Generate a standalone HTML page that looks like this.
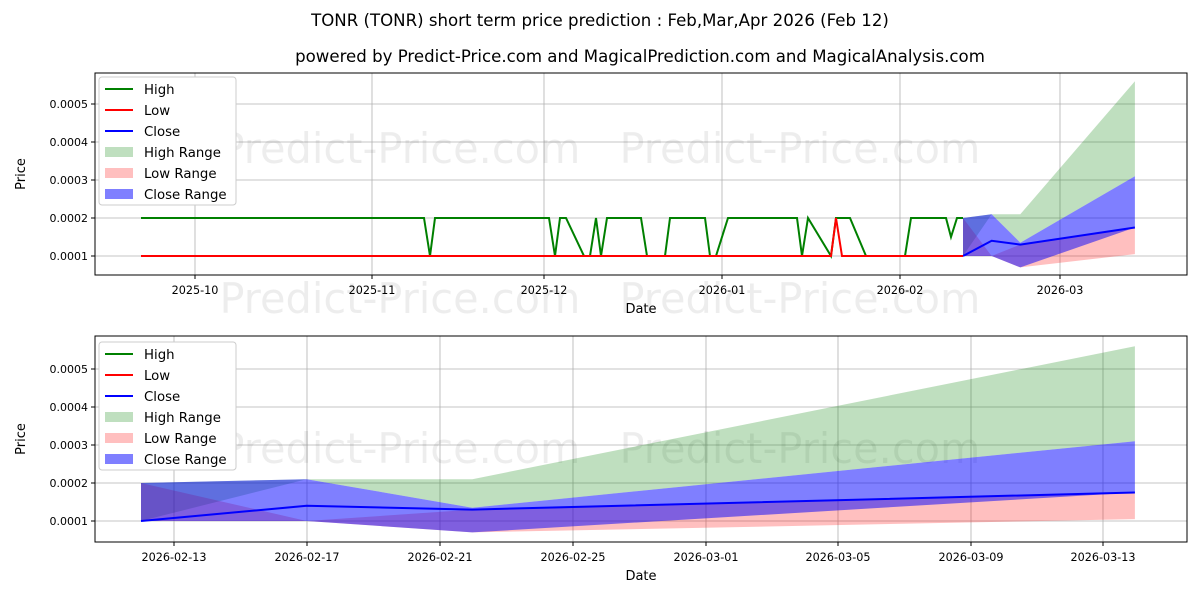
<!DOCTYPE html>
<html><head><meta charset="utf-8"><style>
body{margin:0;background:#fff;}
svg{font-family:"DejaVu Sans","Liberation Sans",sans-serif;}
</style></head><body>
<svg id="s" width="1200" height="600" xmlns="http://www.w3.org/2000/svg"></svg>
<script>
const s=document.getElementById('s');let h='';
h+='<text x="600" y="26" font-size="16.6" text-anchor="middle">TONR (TONR) short term price prediction : Feb,Mar,Apr 2026 (Feb 12)</text>';
h+='<text x="640" y="62" font-size="16.6" text-anchor="middle">powered by Predict-Price.com and MagicalPrediction.com and MagicalAnalysis.com</text>';
function axes(x0,y0,x1,y1,yb,xt,yl){
  let g='';
  for(const[x,l]of xt){g+=`<line x1="${x}" y1="${y0}" x2="${x}" y2="${y1}" stroke="#b0b0b0" stroke-width="0.8"/><line x1="${x}" y1="${y1}" x2="${x}" y2="${y1+4}" stroke="#000"/><text x="${x}" y="${y1+19}" font-size="11.2" text-anchor="middle">${l}</text>`;}
  for(let i=1;i<=5;i++){const y=yb-(i-1)*38;g+=`<line x1="${x0}" y1="${y}" x2="${x1}" y2="${y}" stroke="#b0b0b0" stroke-width="0.8"/><line x1="${x0-4}" y1="${y}" x2="${x0}" y2="${y}" stroke="#000"/><text x="${x0-7}" y="${y+4}" font-size="11" text-anchor="end">0.000${i}</text>`;}
  g+=`<text x="${(x0+x1)/2}" y="${y1+38}" font-size="13" text-anchor="middle">Date</text>`;
  g+=`<text transform="translate(${x0-70},${(y0+y1)/2}) rotate(-90)" font-size="13" text-anchor="middle">Price</text>`;
  return g;
}
function wm(y){return `<text x="400" y="${y}" font-size="41.5" fill="#000" fill-opacity="0.07" text-anchor="middle">Predict-Price.com</text><text x="800" y="${y}" font-size="41.5" fill="#000" fill-opacity="0.07" text-anchor="middle">Predict-Price.com</text>`;}
function pl(pts,c,w){return `<polyline points="${pts.map(p=>p.join(',')).join(' ')}" fill="none" stroke="${c}" stroke-width="${w||2}"/>`;}
function poly(pts,c,o){return `<polygon points="${pts.map(p=>p.join(',')).join(' ')}" fill="${c}" fill-opacity="${o}"/>`;}
function legend(x,y){let g=`<rect x="${x}" y="${y}" width="137" height="128" fill="#fff" stroke="#ccc" rx="3"/>`;
 const it=[['l','green','High'],['l','red','Low'],['l','blue','Close'],['r','#008000',"High Range",0.25],['r','#ff0000','Low Range',0.25],['r','#0000ff','Close Range',0.5]];
 it.forEach((t,i)=>{const yy=y+12+i*21;if(t[0]=='l')g+=`<line x1="${x+6}" y1="${yy}" x2="${x+34}" y2="${yy}" stroke="${t[1]}" stroke-width="2"/>`;else g+=`<rect x="${x+6}" y="${yy-5}" width="28" height="10" fill="${t[1]}" fill-opacity="${t[3]}"/>`;g+=`<text x="${x+45}" y="${yy+5}" font-size="13.3">${t[2]}</text>`;});return g;}
const F=[[0,2,1,2,1,2,1,1],[5,2.1,2.1,2.1,1,1,1,1.4],[10,2.1,1.35,1.35,0.7,1.3,0.7,1.3],[30,5.6,3.1,3.1,1.75,1.75,1.05,1.75]];
function drawF(xf,yf){let g='';
 const X=d=>xf(d),Y=v=>yf(v);
 g+=poly(F.map(r=>[X(r[0]),Y(r[1])]).concat(F.slice().reverse().map(r=>[X(r[0]),Y(r[2])])),'#008000',0.25);
 g+=poly(F.map(r=>[X(r[0]),Y(r[5])]).concat(F.slice().reverse().map(r=>[X(r[0]),Y(r[6])])),'#ff0000',0.25);
 g+=poly(F.map(r=>[X(r[0]),Y(r[3])]).concat(F.slice().reverse().map(r=>[X(r[0]),Y(r[4])])),'#0000ff',0.5);
 g+=pl(F.map(r=>[X(r[0]),Y(r[7])]),'blue');return g;}
h+=axes(95,73,1187,275,256,[[195,'2025-10'],[372,'2025-11'],[544,'2025-12'],[722,'2026-01'],[900,'2026-02'],[1060,'2026-03']]);
h+=wm(163)+wm(313);
const yT=v=>256-(v-1)*38;
const hi=[[141,2],[424,2],[430,1],[435,2],[549,2],[555,1],[560,2],[566,2],[584,1],[590,1],[596,2],[601,1],[607,2],[641,2],[647,1],[665,1],[670,2],[705,2],[710,1],[716,1],[728,2],[797,2],[802,1],[808,2],[831,1],[836,2],[850,2],[866,1],[905,1],[911,2],[946,2],[951,1.5],[957,2],[963,2]];
h+=drawF(d=>963+d*5.73,yT);
h+=pl(hi.map(p=>[p[0],yT(p[1])]),'green');
h+=pl([[141,1],[831,1],[836,2],[842,1],[963,1]].map(p=>[p[0],yT(p[1])]),'red');
h+=`<rect x="95" y="73" width="1092" height="202" fill="none" stroke="#000"/>`;
h+=legend(99,77);
h+=axes(95,336,1187,542,521,[[174,'2026-02-13'],[307,'2026-02-17'],[440,'2026-02-21'],[573,'2026-02-25'],[706,'2026-03-01'],[838,'2026-03-05'],[971,'2026-03-09'],[1103,'2026-03-13']]);
h+=wm(463);
const yB=v=>521-(v-1)*38;
h+=drawF(d=>141+d*33.13,yB);
h+=`<rect x="95" y="336" width="1092" height="206" fill="none" stroke="#000"/>`;
h+=legend(99,342);
s.innerHTML=h;
</script>
</body></html>
